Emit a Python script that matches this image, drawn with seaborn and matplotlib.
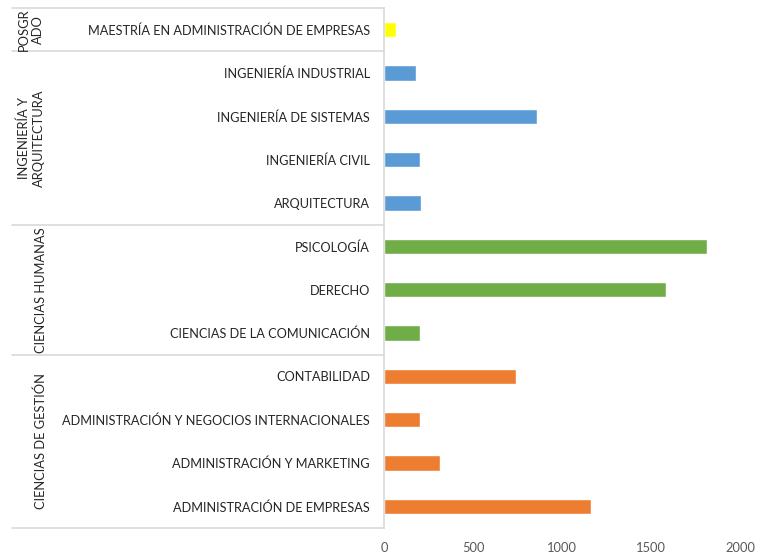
import matplotlib
matplotlib.use("Agg")
import matplotlib.pyplot as plt
import pandas as pd
import seaborn as sns

# data, top to bottom as drawn
programs = [
    "MAESTRÍA EN ADMINISTRACIÓN DE EMPRESAS",
    "INGENIERÍA INDUSTRIAL",
    "INGENIERÍA DE SISTEMAS",
    "INGENIERÍA CIVIL",
    "ARQUITECTURA",
    "PSICOLOGÍA",
    "DERECHO",
    "CIENCIAS DE LA COMUNICACIÓN",
    "CONTABILIDAD",
    "ADMINISTRACIÓN Y NEGOCIOS INTERNACIONALES",
    "ADMINISTRACIÓN Y MARKETING",
    "ADMINISTRACIÓN DE EMPRESAS",
]
values = [65, 180, 858, 202, 206, 1815, 1584, 202, 742, 202, 315, 1161]
groups = ["POSGRADO"] + ["ING"] * 4 + ["HUM"] * 3 + ["GES"] * 4
group_labels = {
    "POSGRADO": "POSGR\nADO",
    "ING": "INGENIERÍA Y\nARQUITECTURA",
    "HUM": "CIENCIAS HUMANAS",
    "GES": "CIENCIAS DE GESTIÓN",
}
group_colors = {"POSGRADO": "#FFFF00", "ING": "#5B9BD5",
                "HUM": "#70AD47", "GES": "#ED7D31"}
x_ticks = [0, 500, 1000, 1500, 2000]

df = pd.DataFrame({"program": programs, "value": values, "group": groups})

sns.set_style("white")
plt.rcParams["font.family"] = ["Lato", "DejaVu Sans"]

fig = plt.figure(figsize=(7.7, 5.55), dpi=100)
ax = fig.add_axes([384 / 770, 1 - 528 / 555, (740 - 384) / 770, (528 - 8) / 555])

sns.barplot(data=df, y="program", x="value", hue="group", palette=group_colors,
            order=programs, dodge=False, width=0.36, saturation=1,
            legend=False, ax=ax)

ax.set_xlim(0, 2000)
ax.set_ylim(len(programs) - 0.5, -0.5)
ax.set_xticks(x_ticks)
ax.set_xlabel("")
ax.set_ylabel("")
ax.tick_params(axis="x", length=0, colors="#595959", labelsize=9.3, pad=10)
ax.tick_params(axis="y", length=0, colors="#262626", labelsize=9.2, pad=10)
for s in ["top", "right", "bottom"]:
    ax.spines[s].set_visible(False)
ax.spines["left"].set_color("#d9d9d9")
ax.spines["left"].set_linewidth(1.2)

# group separators across the label area
left_frac = (12 - 384) / (740 - 384)
bounds = [-0.5]
for i in range(1, len(groups)):
    if groups[i] != groups[i - 1]:
        bounds.append(i - 0.5)
bounds.append(len(groups) - 0.5)
for b in bounds:
    ax.axhline(b, xmin=left_frac, xmax=0, color="#d9d9d9", lw=1.2, clip_on=False)

# group labels, rotated
trans = ax.get_yaxis_transform()
for g, lab in group_labels.items():
    idx = [i for i, gg in enumerate(groups) if gg == g]
    yc = (idx[0] + idx[-1]) / 2
    xpos = 31 if "\n" in lab else 41
    xfrac = (xpos - 384) / (740 - 384)
    ax.text(xfrac, yc, lab, transform=trans, rotation=90, ha="center", va="center",
            fontsize=9.3, color="#262626", linespacing=1.25)

fig.savefig("out.png", dpi=100)
